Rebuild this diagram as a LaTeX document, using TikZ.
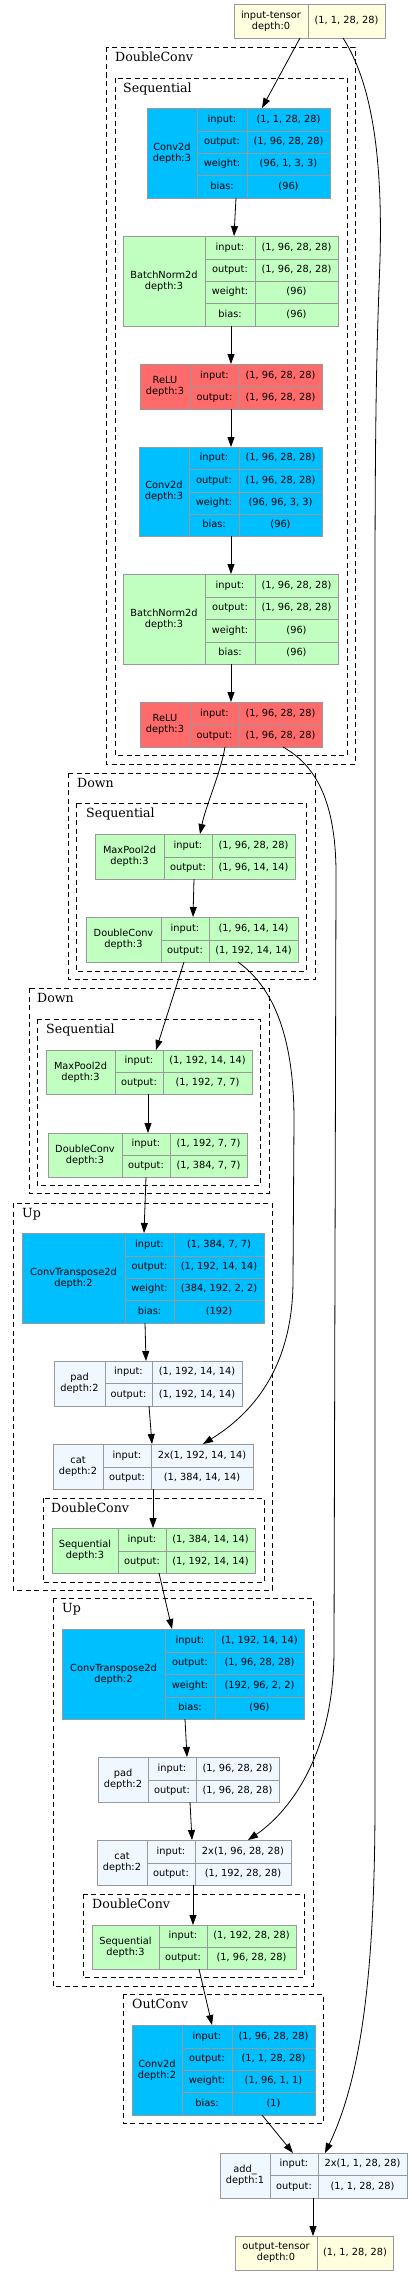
\documentclass[tikz,border=0pt]{standalone}
\usepackage{fontspec}
\setmainfont{DejaVu Sans}
\newfontfamily\clfont{DejaVu Serif}
\usetikzlibrary{arrows.meta,calc}
\definecolor{cblue}{HTML}{00BFFF}
\definecolor{cgreen}{HTML}{C1FFC1}
\definecolor{cred}{HTML}{FF6A6A}
\definecolor{calice}{HTML}{F0F8FF}
\definecolor{cyellow}{HTML}{FFFFE0}
\definecolor{gridc}{HTML}{999999}
\tikzset{
 tabbox/.style={draw=gridc, line width=0.9pt, inner sep=0, outer sep=0},
 gridl/.style={draw=gridc, line width=0.9pt},
 txt/.style={font=\fontsize{9.8}{11}\selectfont, align=center, inner sep=0},
 ktxt/.style={txt, text height=7.4pt, text depth=2pt},
 arr/.style={-{Triangle[length=10pt,width=7pt]}, line width=0.8pt},
 clus/.style={draw=black, line width=0.8pt, dash pattern=on 5pt off 3.5pt},
 clab/.style={font=\clfont\fontsize{12.6}{14}\selectfont, anchor=base west, inner sep=0},
}
% name, fill, x0, x1, x2, x3, y0, yend, label
\newcommand\tabnode[9]{%
  \node[tabbox, fill=#2, minimum width={(#6-#3)*1pt}, minimum height={(#8-#7)*1pt}, anchor=north west] (#1) at (#3,#7) {};
  \draw[gridl] (#4,#7) -- (#4,#8) (#5,#7) -- (#5,#8);
  \node[txt] (#1-lbl) at ({(#3+#4)/2},{(#7+#8)/2}) {#9};
}
% name, idx, x1, x2, x3, ya, yb, key, val
\newcommand\tabrow[9]{%
  \draw[gridl] (#3,#7) -- (#5,#7);
  \node[ktxt] (#1-k#2) at ({(#3+#4)/2},{(#6+#7)/2}) {#8};
  \node[ktxt] (#1-v#2) at ({(#4+#5)/2},{(#6+#7)/2}) {#9};
}
\begin{document}
\begin{tikzpicture}[x=1pt,y=-1pt]
\useasboundingbox[fill=white] (0,0) rectangle (412,2275);

% clusters
\draw[clus] (106,47) rectangle (355,764);
\node[clab] (cl1) at (115,61.5) {DoubleConv};
\draw[clus] (115,78) rectangle (347,755);
\node[clab] (cl2) at (123,92.5) {Sequential};
\draw[clus] (68,773) rectangle (315,979);
\node[clab] (cl3) at (77,787.5) {Down};
\draw[clus] (76,803) rectangle (306,971);
\node[clab] (cl4) at (86,817.5) {Sequential};
\draw[clus] (29,988) rectangle (269,1193);
\node[clab] (cl5) at (37,1002.5) {Down};
\draw[clus] (37,1019) rectangle (260,1185);
\node[clab] (cl6) at (46,1033.5) {Sequential};
\draw[clus] (13,1203) rectangle (272,1590);
\node[clab] (cl7) at (22,1217.5) {Up};
\draw[clus] (43,1498) rectangle (264,1582);
\node[clab] (cl8) at (51,1512.5) {DoubleConv};
\draw[clus] (53,1598) rectangle (313,1986);
\node[clab] (cl9) at (62,1612.5) {Up};
\draw[clus] (83,1894) rectangle (304,1977);
\node[clab] (cl10) at (92,1908.5) {DoubleConv};
\draw[clus] (123,1994) rectangle (323,2123);
\node[clab] (cl11) at (132,2008.5) {OutConv};

% input tensor
\node[tabbox, fill=cyellow, minimum width=151pt, minimum height=34pt, anchor=north west] (input) at (234,4) {};
\draw[gridl] (308,4) -- (308,38);
\node[txt] (input-lbl) at (271,21) {input-tensor\\depth:0};
\node[ktxt] (input-v) at (346.5,21) {(1, 1, 28, 28)};

% conv1
\tabnode{conv1}{cblue}{147}{197}{247}{330}{108}{198}{Conv2d\\depth:3}
\tabrow{conv1}{1}{197}{247}{330}{108}{131}{input:}{(1, 1, 28, 28)}
\tabrow{conv1}{2}{197}{247}{330}{131}{153}{output:}{(1, 96, 28, 28)}
\tabrow{conv1}{3}{197}{247}{330}{153}{175}{weight:}{(96, 1, 3, 3)}
\tabrow{conv1}{4}{197}{247}{330}{175}{198}{bias:}{(96)}

% bn1
\tabnode{bn1}{cgreen}{123}{205}{255}{338}{236}{326}{BatchNorm2d\\depth:3}
\tabrow{bn1}{1}{205}{255}{338}{236}{259}{input:}{(1, 96, 28, 28)}
\tabrow{bn1}{2}{205}{255}{338}{259}{281}{output:}{(1, 96, 28, 28)}
\tabrow{bn1}{3}{205}{255}{338}{281}{303}{weight:}{(96)}
\tabrow{bn1}{4}{205}{255}{338}{303}{326}{bias:}{(96)}

% relu1
\tabnode{relu1}{cred}{140}{190}{239}{322}{364}{409}{ReLU\\depth:3}
\tabrow{relu1}{1}{190}{239}{322}{364}{387}{input:}{(1, 96, 28, 28)}
\tabrow{relu1}{2}{190}{239}{322}{387}{409}{output:}{(1, 96, 28, 28)}

% conv2
\tabnode{conv2}{cblue}{139}{189}{239}{322}{447}{536}{Conv2d\\depth:3}
\tabrow{conv2}{1}{189}{239}{322}{447}{469}{input:}{(1, 96, 28, 28)}
\tabrow{conv2}{2}{189}{239}{322}{469}{492}{output:}{(1, 96, 28, 28)}
\tabrow{conv2}{3}{189}{239}{322}{492}{514}{weight:}{(96, 96, 3, 3)}
\tabrow{conv2}{4}{189}{239}{322}{514}{536}{bias:}{(96)}

% bn2
\tabnode{bn2}{cgreen}{123}{205}{255}{338}{574}{664}{BatchNorm2d\\depth:3}
\tabrow{bn2}{1}{205}{255}{338}{574}{597}{input:}{(1, 96, 28, 28)}
\tabrow{bn2}{2}{205}{255}{338}{597}{619}{output:}{(1, 96, 28, 28)}
\tabrow{bn2}{3}{205}{255}{338}{619}{642}{weight:}{(96)}
\tabrow{bn2}{4}{205}{255}{338}{642}{664}{bias:}{(96)}

% relu2
\tabnode{relu2}{cred}{140}{190}{239}{322}{702}{747}{ReLU\\depth:3}
\tabrow{relu2}{1}{190}{239}{322}{702}{725}{input:}{(1, 96, 28, 28)}
\tabrow{relu2}{2}{190}{239}{322}{725}{747}{output:}{(1, 96, 28, 28)}

% maxpool1
\tabnode{mp1}{cgreen}{95}{164}{212}{295}{834}{879}{MaxPool2d\\depth:3}
\tabrow{mp1}{1}{164}{212}{295}{834}{857}{input:}{(1, 96, 28, 28)}
\tabrow{mp1}{2}{164}{212}{295}{857}{879}{output:}{(1, 96, 14, 14)}

% dc1
\tabnode{dc1}{cgreen}{86}{161}{209}{298}{917}{962}{DoubleConv\\depth:3}
\tabrow{dc1}{1}{161}{209}{298}{917}{940}{input:}{(1, 96, 14, 14)}
\tabrow{dc1}{2}{161}{209}{298}{940}{962}{output:}{(1, 192, 14, 14)}

% maxpool2
\tabnode{mp2}{cgreen}{46}{115}{163}{252}{1050}{1094}{MaxPool2d\\depth:3}
\tabrow{mp2}{1}{115}{163}{252}{1050}{1072}{input:}{(1, 192, 14, 14)}
\tabrow{mp2}{2}{115}{163}{252}{1072}{1094}{output:}{(1, 192, 7, 7)}

% dc2
\tabnode{dc2}{cgreen}{48}{122}{170}{247}{1133}{1177}{DoubleConv\\depth:3}
\tabrow{dc2}{1}{122}{170}{247}{1133}{1155}{input:}{(1, 192, 7, 7)}
\tabrow{dc2}{2}{122}{170}{247}{1155}{1177}{output:}{(1, 384, 7, 7)}

% ct1
\tabnode{ct1}{cblue}{22}{125}{174}{264}{1233}{1323}{ConvTranspose2d\\depth:2}
\tabrow{ct1}{1}{125}{174}{264}{1233}{1256}{input:}{(1, 384, 7, 7)}
\tabrow{ct1}{2}{125}{174}{264}{1256}{1278}{output:}{(1, 192, 14, 14)}
\tabrow{ct1}{3}{125}{174}{264}{1278}{1300}{weight:}{(384, 192, 2, 2)}
\tabrow{ct1}{4}{125}{174}{264}{1300}{1323}{bias:}{(192)}

% pad1
\tabnode{pad1}{calice}{54}{105}{152}{242}{1361}{1406}{pad\\depth:2}
\tabrow{pad1}{1}{105}{152}{242}{1361}{1383}{input:}{(1, 192, 14, 14)}
\tabrow{pad1}{2}{105}{152}{242}{1383}{1406}{output:}{(1, 192, 14, 14)}

% cat1
\tabnode{cat1}{calice}{53}{103}{151}{253}{1444}{1489}{cat\\depth:2}
\tabrow{cat1}{1}{103}{151}{253}{1444}{1467}{input:}{2x(1, 192, 14, 14)}
\tabrow{cat1}{2}{103}{151}{253}{1467}{1489}{output:}{(1, 384, 14, 14)}

% seq1
\tabnode{seq1}{cgreen}{52}{118}{166}{255}{1528}{1573}{Sequential\\depth:3}
\tabrow{seq1}{1}{118}{166}{255}{1528}{1551}{input:}{(1, 384, 14, 14)}
\tabrow{seq1}{2}{118}{166}{255}{1551}{1573}{output:}{(1, 192, 14, 14)}

% ct2
\tabnode{ct2}{cblue}{62}{165}{215}{304}{1629}{1719}{ConvTranspose2d\\depth:2}
\tabrow{ct2}{1}{165}{215}{304}{1629}{1652}{input:}{(1, 192, 14, 14)}
\tabrow{ct2}{2}{165}{215}{304}{1652}{1674}{output:}{(1, 96, 28, 28)}
\tabrow{ct2}{3}{165}{215}{304}{1674}{1697}{weight:}{(192, 96, 2, 2)}
\tabrow{ct2}{4}{165}{215}{304}{1697}{1719}{bias:}{(96)}

% pad2
\tabnode{pad2}{calice}{98}{148}{196}{279}{1757}{1802}{pad\\depth:2}
\tabrow{pad2}{1}{148}{196}{279}{1757}{1780}{input:}{(1, 96, 28, 28)}
\tabrow{pad2}{2}{148}{196}{279}{1780}{1802}{output:}{(1, 96, 28, 28)}

% cat2
\tabnode{cat2}{calice}{97}{147}{195}{291}{1840}{1885}{cat\\depth:2}
\tabrow{cat2}{1}{147}{195}{291}{1840}{1863}{input:}{2x(1, 96, 28, 28)}
\tabrow{cat2}{2}{147}{195}{291}{1863}{1885}{output:}{(1, 192, 28, 28)}

% seq2
\tabnode{seq2}{cgreen}{92}{159}{207}{296}{1925}{1969}{Sequential\\depth:3}
\tabrow{seq2}{1}{159}{207}{296}{1925}{1947}{input:}{(1, 192, 28, 28)}
\tabrow{seq2}{2}{159}{207}{296}{1947}{1969}{output:}{(1, 96, 28, 28)}

% conv3
\tabnode{conv3}{cblue}{132}{182}{232}{315}{2025}{2115}{Conv2d\\depth:2}
\tabrow{conv3}{1}{182}{232}{315}{2025}{2048}{input:}{(1, 96, 28, 28)}
\tabrow{conv3}{2}{182}{232}{315}{2048}{2070}{output:}{(1, 1, 28, 28)}
\tabrow{conv3}{3}{182}{232}{315}{2070}{2092}{weight:}{(1, 96, 1, 1)}
\tabrow{conv3}{4}{182}{232}{315}{2092}{2115}{bias:}{(1)}

% add
\tabnode{add}{calice}{220}{270}{318}{407}{2153}{2198}{add\_\\depth:1}
\tabrow{add}{1}{270}{318}{407}{2153}{2175}{input:}{2x(1, 1, 28, 28)}
\tabrow{add}{2}{270}{318}{407}{2175}{2198}{output:}{(1, 1, 28, 28)}

% output tensor
\node[tabbox, fill=cyellow, minimum width=158pt, minimum height=34pt, anchor=north west] (output) at (235,2236) {};
\draw[gridl] (317,2236) -- (317,2270);
\node[txt] (output-lbl) at (276,2253) {output-tensor\\depth:0};
\node[ktxt] (output-v) at (355,2253) {(1, 1, 28, 28)};

% edges
\draw[arr] (input.south -| 300,0) -- (conv1.north -| 262,0);
\draw[arr] (input.south -| 343,0) .. controls (370,80) and (383,150) .. (380,260)
   .. controls (377,340) and (375,400) .. (375,600) -- (375,1800)
   .. controls (375,1980) and (360,2080) .. (add.north -| 325,0);
\draw[arr] (conv1.south -| 236,0) -- (bn1.north -| 234,0);
\draw[arr] (bn1.south -| 231,0) -- (relu1.north -| 231,0);
\draw[arr] (relu1.south -| 231,0) -- (conv2.north -| 231,0);
\draw[arr] (conv2.south -| 231,0) -- (bn2.north -| 231,0);
\draw[arr] (bn2.south -| 231,0) -- (relu2.north -| 231,0);
\draw[arr] (relu2.south -| 225,0) .. controls (220,775) and (206,805) .. (mp1.north -| 200,0);
\draw[arr] (relu2.south -| 283,0) .. controls (315,765) and (337,800) .. (336,880)
   -- (334,1650) .. controls (334,1760) and (285,1815) .. (cat2.north -| 248,0);
\draw[arr] (mp1.south -| 194,0) -- (dc1.north -| 193,0);
\draw[arr] (dc1.south -| 184,0) -- (mp2.north -| 156,0);
\draw[arr] (dc1.south -| 238,0) .. controls (270,985) and (294,1030) .. (294,1120)
   -- (293,1280) .. controls (293,1370) and (250,1415) .. (cat1.north -| 203,0);
\draw[arr] (mp2.south -| 148,0) -- (dc2.north -| 148,0);
\draw[arr] (dc2.south -| 146,0) -- (ct1.north -| 144,0);
\draw[arr] (ct1.south -| 145,0) -- (pad1.north -| 146,0);
\draw[arr] (pad1.south -| 149,0) -- (cat1.north -| 152,0);
\draw[arr] (cat1.south -| 153,0) -- (seq1.north -| 153,0);
\draw[arr] (seq1.south -| 159,0) -- (ct2.north -| 172,0);
\draw[arr] (ct2.south -| 185,0) -- (pad2.north -| 187,0);
\draw[arr] (pad2.south -| 190,0) -- (cat2.north -| 192,0);
\draw[arr] (cat2.south -| 193,0) -- (seq2.north -| 193,0);
\draw[arr] (seq2.south -| 199,0) -- (conv3.north -| 212,0);
\draw[arr] (conv3.south -| 262,0) -- (add.north -| 293,0);
\draw[arr] (add.south -| 313,0) -- (output.north -| 313,0);
\end{tikzpicture}
\end{document}
